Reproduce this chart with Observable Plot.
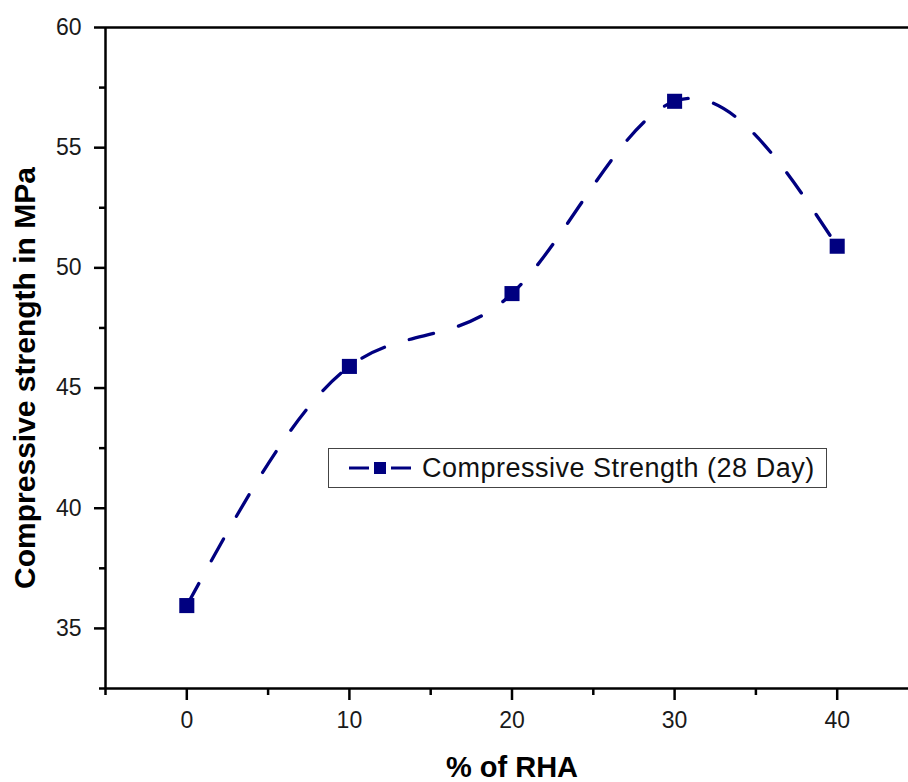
<!DOCTYPE html>
<html>
<head>
<meta charset="utf-8">
<script src="https://cdn.jsdelivr.net/npm/d3@7"></script>
<script src="https://cdn.jsdelivr.net/npm/@observablehq/plot@0.6"></script>
<style>
  html, body { margin: 0; padding: 0; background: #fff; overflow: hidden; }
  #wrap { position: relative; width: 908px; height: 782px; overflow: hidden; }
  #wrap > svg { display: block; max-width: none !important; width: 920px !important; height: 782px !important; }
  #legend {
    position: absolute; left: 328px; top: 448px; width: 497px; height: 38px;
    border: 1.5px solid #444; background: #fff;
    font-family: "Liberation Sans", Arial, sans-serif; font-size: 27px; letter-spacing: 0.5px; color: #111;
    display: flex; align-items: center;
  }
  #legend svg { margin-left: 20px; margin-right: 11px; }
</style>
</head>
<body>
<div id="wrap"></div>
<script>
// Data
const rhaPercent = [0, 10, 20, 30, 40];
const strength28 = [35.95, 45.9, 48.93, 56.93, 50.9];
const xMajorTicks = [0, 10, 20, 30, 40];
const xMinorTicks = [-5, 5, 15, 25, 35, 45];
const yMajorTicks = [35, 40, 45, 50, 55, 60];
const yMinorTicks = [32.5, 37.5, 42.5, 47.5, 52.5, 57.5];
const xLabel = "% of RHA";
const yLabel = "Compressive strength in MPa";
const seriesName = "Compressive Strength (28 Day)";

const data = rhaPercent.map((v, i) => ({x: v, y: strength28[i]}));
const navy = "#000080";
const fontFamily = "'Liberation Sans', Arial, sans-serif";

const chart = Plot.plot({
  width: 920,
  height: 782,
  marginLeft: 105,
  marginRight: 2,
  marginTop: 27,
  marginBottom: 94,
  style: {fontFamily, background: "white", overflow: "visible"},
  x: {domain: [-5, 45]},
  y: {domain: [32.5, 60]},
  marks: [
    Plot.axisX({ticks: xMajorTicks, tickSize: 12, tickPadding: 11, fontSize: 23, strokeWidth: 2.5, label: null, fill: "#1a1a1a", tickFormat: d => String(d)}),
    Plot.axisX({ticks: xMinorTicks, tickSize: 7, strokeWidth: 2.5, label: null, tickFormat: () => ""}),
    Plot.axisY({ticks: yMajorTicks, tickSize: 11, tickPadding: 13, fontSize: 23, strokeWidth: 2.5, label: null, fill: "#1a1a1a", tickFormat: d => String(d)}),
    Plot.axisY({ticks: yMinorTicks, tickSize: 6, strokeWidth: 2.5, label: null, tickFormat: () => ""}),
    Plot.ruleX([-5, 45], {stroke: "black", strokeWidth: 2.5}),
    Plot.ruleY([32.5, 60], {stroke: "black", strokeWidth: 2.5}),
    Plot.line(data, {x: "x", y: "y", curve: "natural", stroke: navy, strokeWidth: 3.3, strokeDasharray: "25,26"}),
    Plot.dot(data, {x: "x", y: "y", symbol: "square", r: 8.5, fill: navy, stroke: "none"}),
    Plot.text([xLabel], {frameAnchor: "bottom", textAnchor: "middle", lineAnchor: "middle", dy: 79, fontSize: 29, fontWeight: "bold", fill: "black", text: d => d}),
    Plot.text([yLabel], {frameAnchor: "left", textAnchor: "middle", lineAnchor: "middle", dx: -80, dy: 20, rotate: -90, fontSize: 30, fontWeight: "bold", fill: "black", text: d => d})
  ]
});

const wrap = document.getElementById("wrap");
wrap.appendChild(chart);

const legend = document.createElement("div");
legend.id = "legend";
legend.innerHTML = `<svg width="62" height="14" viewBox="0 0 62 14">
  <line x1="0" y1="7" x2="20" y2="7" stroke="${navy}" stroke-width="3"/>
  <rect x="25" y="1" width="12" height="12" fill="${navy}"/>
  <line x1="42" y1="7" x2="62" y2="7" stroke="${navy}" stroke-width="3"/>
</svg><span></span>`;
legend.querySelector("span").textContent = seriesName;
wrap.appendChild(legend);
</script>
</body>
</html>
